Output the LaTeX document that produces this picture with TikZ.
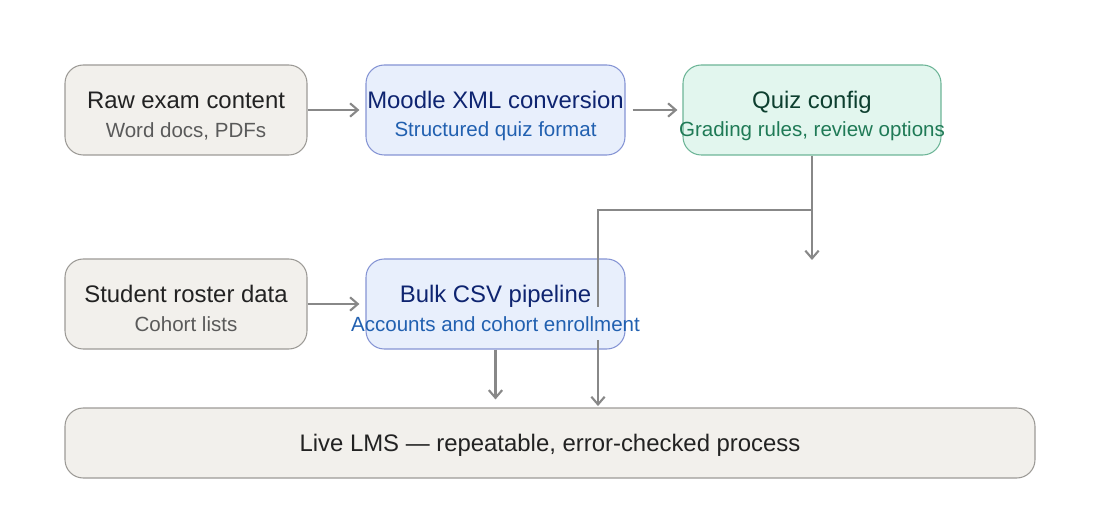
\documentclass[tikz,border=0pt]{standalone}
\usepackage{fontspec}
\setmainfont{Liberation Sans}
\usetikzlibrary{arrows.meta}
\definecolor{grayfill}{HTML}{F2F0EC}
\definecolor{grayline}{HTML}{9C9A96}
\definecolor{graytitle}{HTML}{222222}
\definecolor{graysub}{HTML}{5A5A5A}
\definecolor{bluefill}{HTML}{E8EFFC}
\definecolor{blueline}{HTML}{8594D4}
\definecolor{bluetitle}{HTML}{0E2470}
\definecolor{bluesub}{HTML}{2160B0}
\definecolor{greenfill}{HTML}{E2F6EE}
\definecolor{greenline}{HTML}{6DB597}
\definecolor{greentitle}{HTML}{0D3F2F}
\definecolor{greensub}{HTML}{1F7A56}
\definecolor{linegray}{HTML}{888888}
\begin{document}
\begin{tikzpicture}[x=0.025cm,y=-0.025cm,
  box/.style={rectangle, rounded corners=13pt, line width=0.75pt, minimum height=90*0.025cm, inner sep=0pt},
  graybox/.style={box, draw=grayline, fill=grayfill},
  bluebox/.style={box, draw=blueline, fill=bluefill},
  greenbox/.style={box, draw=greenline, fill=greenfill},
  ttl/.style={font=\fontsize{17}{20}\selectfont, anchor=base, inner sep=0pt},
  sub/.style={font=\fontsize{14.6}{17}\selectfont, anchor=base, inner sep=0pt},
  arr/.style={draw=linegray, line width=1.5pt, -{Straight Barb[length=5.5pt,width=9.5pt]}},
  seg/.style={draw=linegray, line width=1.5pt}
]
\useasboundingbox (0,0) rectangle (1100,518);

% top row
\node[graybox, minimum width=242*0.025cm] (raw) at (186,110) {};
\node[ttl, text=graytitle] (rawt) at (186,108.5) {Raw exam content};
\node[sub, text=graysub] (raws) at (186,137.3) {Word docs, PDFs};

\node[bluebox, minimum width=259*0.025cm] (xml) at (495.5,110) {};
\node[ttl, text=bluetitle] (xmlt) at (495.5,108.5) {Moodle XML conversion};
\node[sub, text=bluesub] (xmls) at (495.5,137) {Structured quiz format};

\node[greenbox, minimum width=258*0.025cm] (quiz) at (812,110) {};
\node[ttl, text=greentitle] (quizt) at (812,109) {Quiz config};
\node[sub, text=greensub] (quizs) at (812,136.5) {Grading rules, review options};

% second row
\node[graybox, minimum width=242*0.025cm] (roster) at (186,304) {};
\node[ttl, text=graytitle] (rostert) at (186,302.5) {Student roster data};
\node[sub, text=graysub] (rosters) at (186,331.3) {Cohort lists};

\node[bluebox, minimum width=259*0.025cm] (csv) at (495.5,304) {};
\node[ttl, text=bluetitle] (csvt) at (495.5,302.5) {Bulk CSV pipeline};
\node[sub, text=bluesub, inner xsep=0pt, inner ysep=6.2pt] (csvs) at (495.5,331) {Accounts and cohort enrollment};

% bottom bar
\node[graybox, minimum width=970*0.025cm, minimum height=70*0.025cm] (lms) at (550,443) {};
\node[font=\fontsize{17}{20}\selectfont, text=graytitle, inner sep=0pt] (lmst) at (550,445.5) {Live LMS — repeatable, error-checked process};

% connectors
\draw[arr, shorten >=4.3pt] (raw.east) -- (xml.west);
\draw[arr, shorten <=5pt, shorten >=3.6pt] (xml.east) -- (quiz.west);
\draw[arr, shorten >=4.3pt] (roster.east) -- (csv.west);

\coordinate (qend) at (812,260);
\coordinate (j) at (812,210);
\coordinate (k) at (598,210);
\draw[arr] (quiz.south) -- (qend);
\draw[seg] (j) -- (k) -- (k |- csvs.north);
\draw[arr, shorten >=1pt] (k |- csvs.south) -- (k |- lms.north);
\draw[arr, shorten >=5.7pt] (csv.south) -- (csv.south |- lms.north);
\end{tikzpicture}
\end{document}
